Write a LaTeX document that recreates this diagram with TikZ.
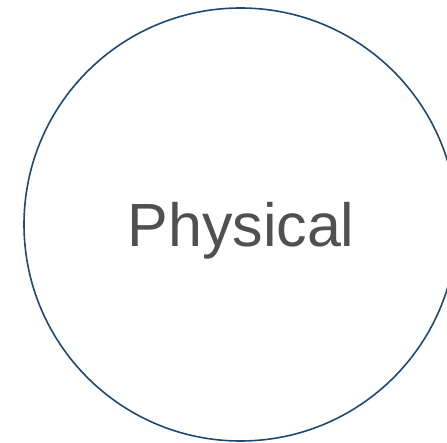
\documentclass[tikz,border=0pt]{standalone}
\usepackage{fontspec}
\setmainfont{Liberation Sans}
\usepackage{xcolor}
\usepackage{tikz}
\definecolor{ringblue}{RGB}{31,73,115}
\definecolor{labelgray}{RGB}{80,80,80}

\begin{document}
\begin{tikzpicture}[
  x=1pt, y=1pt,
  ring/.style={draw=ringblue, line width=1.6pt},
  caption/.style={text=labelgray, font=\fontsize{61}{61}\selectfont, inner sep=0pt},
]
\useasboundingbox (0,0) rectangle (447,442);

% Ring
\coordinate (centre) at (240.5,217.5);
\draw[ring] (centre) circle[radius=216.5];

% Label
\node[caption, anchor=base] (physical) at (241,195) {Physical};

\end{tikzpicture}
\end{document}
